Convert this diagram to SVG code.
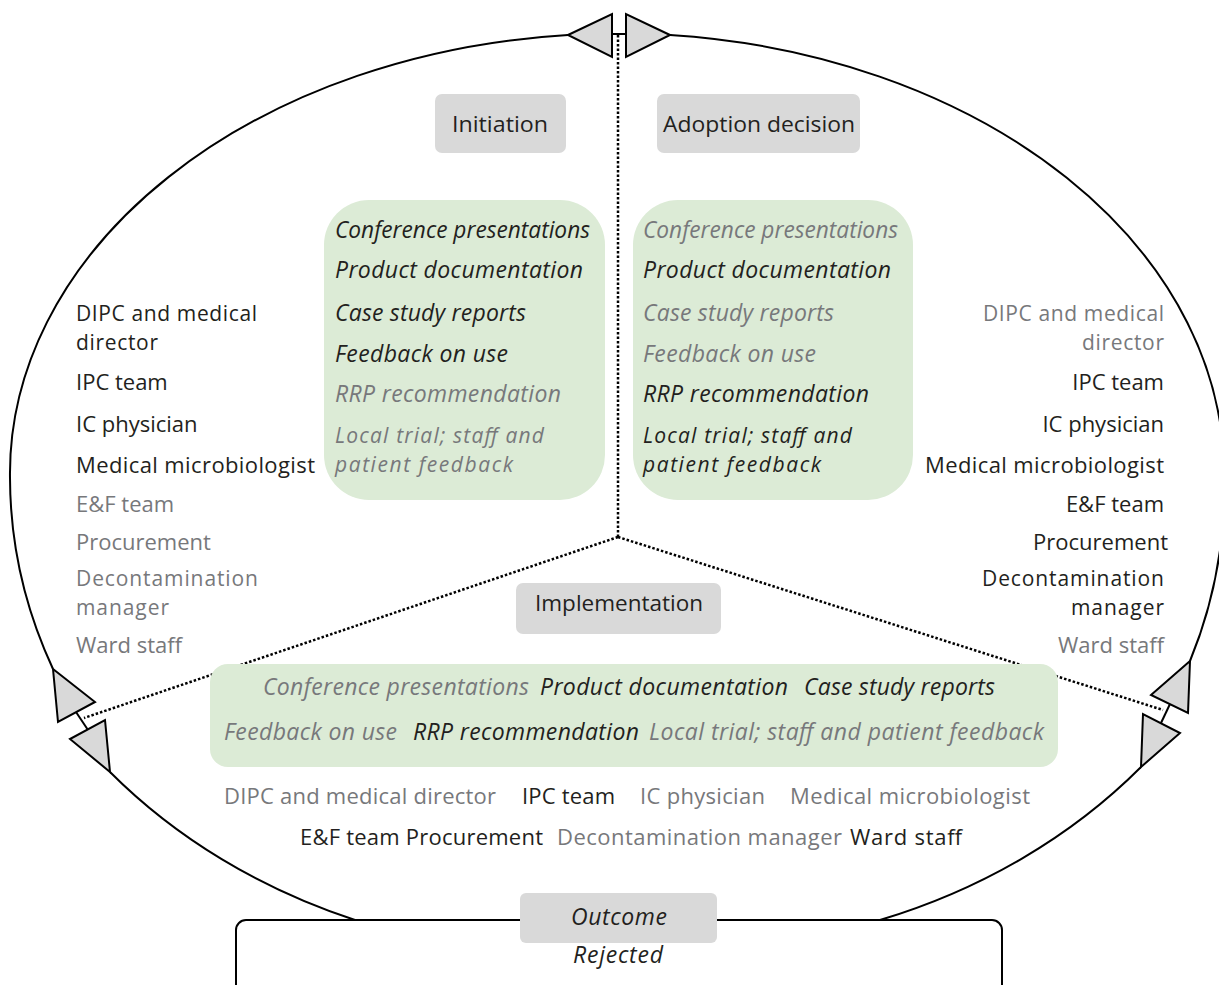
<svg xmlns="http://www.w3.org/2000/svg" width="1219" height="985" viewBox="0 0 1219 985">
  <style>
    text { font-family: "Open Sans", "Noto Sans", sans-serif; font-size: 22px; fill: #231f20; }
    .it { font-style: italic; font-size: 23px; }
    .two { font-size: 21px; }
    .g { fill: #77787b; }
    .d { fill: #231f20; }
    .end { text-anchor: end; }
    .label { fill: #d9d9d9; }
    .green { fill: #dcebd6; }
    .arc { fill: none; stroke: #000; stroke-width: 2; }
    .dots { fill: none; stroke: #000; stroke-width: 2.5; stroke-dasharray: 2.5 2; }
    .head { fill: #d9d9d9; stroke: #000; stroke-width: 2; stroke-linejoin: miter; }
  </style>

  <rect width="1219" height="985" fill="#fff"/>

  <!-- cycle ring, dividers and arrowheads -->
  <g id="connectors">
    <path class="arc" d="M568,35 A607,440 0 0 0 10,478 A607,520 0 0 0 53,669"/>
    <path class="arc" d="M110,772 A607,520 0 0 0 355,920"/>
    <path class="arc" d="M880,920 A607,520 0 0 0 1141,767"/>
    <path class="arc" d="M1190,661 A607,520 0 0 0 1224,478 A607,440 0 0 0 670,35"/>

    <path class="dots" d="M618,35 L618,537"/>
    <path class="dots" d="M618,537 L84,718"/>
    <path class="dots" d="M618,537 L1163,710"/>

    <!-- top pair -->
    <path class="arc" d="M612,34 L626,34"/>
    <polygon class="head" points="568,35 612,14 612,57"/>
    <polygon class="head" points="670,35 626,14 626,57"/>
    <!-- left pair -->
    <path class="arc" d="M76,712 L88,730"/>
    <polygon class="head" points="53,669 95,702 58,722"/>
    <polygon class="head" points="110,772 70,739 105,720"/>
    <!-- right pair -->
    <path class="arc" d="M1170,704 L1161,723"/>
    <polygon class="head" points="1190,661 1151,695 1188,713"/>
    <polygon class="head" points="1141,767 1143,714 1180,733"/>
  </g>

  <!-- stage labels -->
  <g id="initiation">
    <rect class="label" x="435" y="94" width="131" height="59" rx="7"/>
    <text x="452" y="132" textLength="96" lengthAdjust="spacingAndGlyphs">Initiation</text>
  </g>
  <g id="adoption-decision">
    <rect class="label" x="657" y="94" width="203" height="59" rx="7"/>
    <text x="663" y="132" textLength="192" lengthAdjust="spacingAndGlyphs">Adoption decision</text>
  </g>
  <g id="implementation">
    <rect class="label" x="516" y="583" width="205" height="51" rx="7"/>
    <text x="535" y="611" textLength="168" lengthAdjust="spacingAndGlyphs">Implementation</text>
  </g>

  <!-- information sources per stage -->
  <g id="initiation-sources">
    <rect class="green" x="324" y="200" width="281" height="300" rx="45"/>
    <text class="it d" x="335" y="238" textLength="255" lengthAdjust="spacingAndGlyphs">Conference presentations</text>
    <text class="it d" x="335" y="278" textLength="248">Product documentation</text>
    <text class="it d" x="335" y="321" textLength="191">Case study reports</text>
    <text class="it d" x="335" y="362" textLength="173">Feedback on use</text>
    <text class="it g" x="335" y="402" textLength="226">RRP recommendation</text>
    <text class="it g two"><tspan x="335" y="443" textLength="209">Local trial; staff and</tspan><tspan x="335" y="472" textLength="178">patient feedback</tspan></text>
  </g>
  <g id="adoption-sources">
    <rect class="green" x="633" y="200" width="280" height="300" rx="45"/>
    <text class="it g" x="643" y="238" textLength="255" lengthAdjust="spacingAndGlyphs">Conference presentations</text>
    <text class="it d" x="643" y="278" textLength="248">Product documentation</text>
    <text class="it g" x="643" y="321" textLength="191">Case study reports</text>
    <text class="it g" x="643" y="362" textLength="173">Feedback on use</text>
    <text class="it d" x="643" y="402" textLength="226">RRP recommendation</text>
    <text class="it d two"><tspan x="643" y="443" textLength="209">Local trial; staff and</tspan><tspan x="643" y="472" textLength="178">patient feedback</tspan></text>
  </g>
  <g id="implementation-sources">
    <rect class="green" x="210" y="664" width="848" height="103" rx="18"/>
    <text class="it g" x="263" y="695" textLength="266">Conference presentations</text>
    <text class="it d" x="540" y="695" textLength="248">Product documentation</text>
    <text class="it d" x="804" y="695" textLength="191">Case study reports</text>
    <text class="it g" x="224" y="740" textLength="173">Feedback on use</text>
    <text class="it d" x="413" y="740" textLength="226">RRP recommendation</text>
    <text class="it g" x="649" y="740" textLength="395">Local trial; staff and patient feedback</text>
  </g>

  <!-- stakeholders per stage -->
  <g id="initiation-stakeholders">
    <text class="d two"><tspan x="76" y="321" textLength="181">DIPC and medical</tspan><tspan x="76" y="350" textLength="82">director</tspan></text>
    <text class="d" x="76" y="390">IPC team</text>
    <text class="d" x="76" y="432">IC physician</text>
    <text class="d" x="76" y="473" textLength="239">Medical microbiologist</text>
    <text class="g" x="76" y="512">E&amp;F team</text>
    <text class="g" x="76" y="550">Procurement</text>
    <text class="g two"><tspan x="76" y="586" textLength="182">Decontamination</tspan><tspan x="76" y="615" textLength="93">manager</tspan></text>
    <text class="g" x="76" y="653">Ward staff</text>
  </g>
  <g id="adoption-stakeholders">
    <text class="g two"><tspan x="983" y="321" textLength="181">DIPC and medical</tspan><tspan x="1082" y="350" textLength="82">director</tspan></text>
    <text class="d end" x="1164" y="390">IPC team</text>
    <text class="d end" x="1164" y="432">IC physician</text>
    <text class="d" x="925" y="473" textLength="239">Medical microbiologist</text>
    <text class="d end" x="1164" y="512">E&amp;F team</text>
    <text class="d end" x="1168" y="550">Procurement</text>
    <text class="d two"><tspan x="982" y="586" textLength="182">Decontamination</tspan><tspan x="1071" y="615" textLength="93">manager</tspan></text>
    <text class="g end" x="1164" y="653">Ward staff</text>
  </g>
  <g id="implementation-stakeholders">
    <text class="g" x="224" y="804" textLength="272">DIPC and medical director</text>
    <text class="d" x="522" y="804" textLength="93">IPC team</text>
    <text class="g" x="640" y="804" textLength="125">IC physician</text>
    <text class="g" x="790" y="804" textLength="240">Medical microbiologist</text>
    <text class="d" x="300" y="845" textLength="243">E&amp;F team Procurement</text>
    <text class="g" x="557" y="845" textLength="285">Decontamination manager</text>
    <text class="d" x="850" y="845" textLength="112">Ward staff</text>
  </g>

  <!-- outcome -->
  <g id="outcome">
    <rect x="236" y="920" width="766" height="80" rx="10" fill="#fff" stroke="#000" stroke-width="2"/>
    <rect class="label" x="520" y="893" width="197" height="50" rx="6"/>
    <text class="it" x="571" y="925" textLength="96">Outcome</text>
    <text class="it" x="573" y="963" textLength="90">Rejected</text>
  </g>
</svg>
